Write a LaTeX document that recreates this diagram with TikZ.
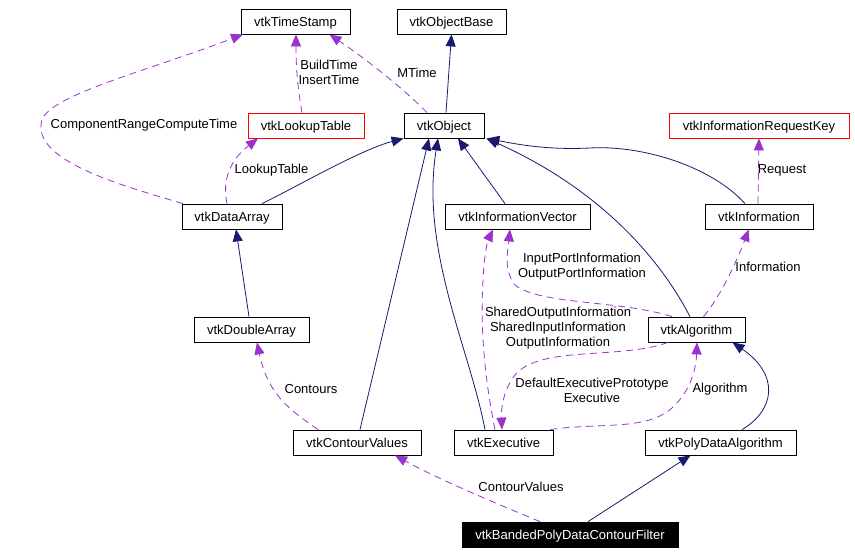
\documentclass[tikz,border=0pt]{standalone}
\usepackage{fontspec}
\setmainfont{Liberation Sans}
\usetikzlibrary{arrows.meta}
\definecolor{inhc}{RGB}{25,25,112}
\definecolor{usec}{RGB}{154,50,205}
\definecolor{redc}{RGB}{255,0,0}
\begin{document}
\begin{tikzpicture}[x=1pt,y=-1pt,
  font=\fontsize{13}{15}\selectfont,
  cls/.style={draw=black, line width=0.8pt, inner sep=0pt, minimum height=25pt, text height=11.5pt, text depth=1.5pt, fill=white},
  redcls/.style={cls, draw=redc},
  focus/.style={cls, fill=black, text=white},
  inhline/.style={draw=inhc, line width=0.8pt, -{Triangle[length=12pt,width=10pt]}},
  useline/.style={draw=usec, line width=0.8pt, dash pattern=on 7pt off 5pt, -{Triangle[length=12pt,width=10pt]}},
  lbl/.style={align=center, inner sep=0pt}
]
\useasboundingbox[fill=white] (0,0) rectangle (855,554);

% classes
\node[cls, minimum width=109pt] (ts)  at (295.5,21.5) {vtkTimeStamp};
\node[cls, minimum width=109pt] (ob)  at (451.5,21.5) {vtkObjectBase};
\node[redcls, minimum width=116pt] (lt) at (306,125.5) {vtkLookupTable};
\node[cls, minimum width=80pt] (obj) at (444,125.5) {vtkObject};
\node[redcls, minimum width=180pt] (rk) at (759,125.5) {vtkInformationRequestKey};
\node[cls, minimum width=100pt] (da)  at (232,216.5) {vtkDataArray};
\node[cls, minimum width=145pt] (iv)  at (517.5,216.5) {vtkInformationVector};
\node[cls, minimum width=108pt] (info) at (759,216.5) {vtkInformation};
\node[cls, minimum width=115pt] (dbl) at (251.5,329.5) {vtkDoubleArray};
\node[cls, minimum width=97pt] (alg) at (696.5,329.5) {vtkAlgorithm};
\node[cls, minimum width=128pt] (cv)  at (357,442.5) {vtkContourValues};
\node[cls, minimum width=99pt] (ex)  at (503.5,442.5) {vtkExecutive};
\node[cls, minimum width=151pt] (pda) at (720.5,442.5) {vtkPolyDataAlgorithm};
\node[focus, minimum width=216pt] (bpf) at (570,534.5) {vtkBandedPolyDataContourFilter};

% inheritance
\draw[inhline] ([xshift=2pt]obj.north) -- (ob.south);
\draw[inhline] ([xshift=30pt]da.north) .. controls (300,185) and (360,150) .. (obj.south west);
\draw[inhline] ([xshift=3pt]cv.north) -- ([xshift=-15pt]obj.south);
\draw[inhline] ([xshift=-18.5pt]ex.north) .. controls (470,350) and (420,250) .. ([xshift=-6pt]obj.south);
\draw[inhline] ([xshift=-12.5pt]iv.north) -- ([xshift=14pt]obj.south);
\draw[inhline] ([xshift=-6.5pt]alg.north) .. controls (650,240) and (580,180) .. ([xshift=2pt]obj.south east);
\draw[inhline] ([xshift=-14pt]info.north) .. controls (710,165) and (640,145) .. (590,148) .. controls (550,150) and (520,145) .. ([xshift=3pt]obj.south east);
\draw[inhline] ([xshift=-2.5pt]dbl.north) -- ([xshift=4pt]da.south);
\draw[inhline] ([xshift=21.5pt]pda.north) .. controls (775,410) and (780,375) .. ([xshift=36pt]alg.south);
\draw[inhline] ([xshift=18pt]bpf.north) -- ([xshift=-30pt]pda.south);

% usage
\draw[useline] ([xshift=-4pt]lt.north) .. controls (298,90) and (296,70) .. ([xshift=0.5pt]ts.south);
\node[lbl] (la) at (329,72) {BuildTime\\InsertTime};
\draw[useline] ([xshift=-17pt]obj.north) .. controls (400,85) and (360,55) .. ([xshift=34pt]ts.south);
\node[lbl] (lb) at (417,73) {MTime};
\draw[useline] ([xshift=-49pt]da.north) .. controls (120,185) and (30,160) .. (42,120) .. controls (50,95) and (150,70) .. ([xshift=-52.5pt]ts.south);
\node[lbl] (lc) at (144,125) {ComponentRangeComputeTime};
\draw[useline] ([xshift=-5pt]da.north) .. controls (222,180) and (230,160) .. ([xshift=-48pt]lt.south);
\node[lbl] (ld) at (271.5,170) {LookupTable};
\draw[useline] ([xshift=-1pt]info.north) -- (rk.south);
\node[lbl] (le) at (782,170) {Request};
\draw[useline] ([xshift=7pt]alg.north) .. controls (720,297) and (735,265) .. ([xshift=-10pt]info.south);
\node[lbl] (lf) at (768,267) {Information};
\draw[useline] ([xshift=-24.5pt]alg.north) .. controls (620,300) and (540,305) .. (515,285) .. controls (503,270) and (508,250) .. ([xshift=-7.5pt]iv.south);
\node[lbl] (lg) at (582,267) {InputPortInformation\\OutputPortInformation};
\draw[useline] ([xshift=-8.5pt]ex.north) .. controls (485,380) and (480,330) .. (483,280) .. controls (484,255) and (488,240) .. ([xshift=-24.5pt]iv.south);
\node[lbl] (lh) at (558,328) {SharedOutputInformation\\SharedInputInformation\\OutputInformation};
\draw[useline] ([xshift=-28.5pt]alg.south) .. controls (620,360) and (540,345) .. (515,375) .. controls (503,390) and (501,410) .. ([xshift=-1.5pt]ex.north);
\node[lbl] (li) at (592,390) {DefaultExecutivePrototype\\Executive};
\draw[useline] ([xshift=-3pt]ex.north east) .. controls (600,422) and (650,432) .. (675,405) .. controls (690,390) and (696,370) .. ([xshift=0.5pt]alg.south);
\node[lbl] (lj) at (720,389) {Algorithm};
\draw[useline] ([xshift=-30pt]bpf.north) .. controls (500,505) and (440,480) .. ([xshift=38pt]cv.south);
\node[lbl] (lk) at (521,487) {ContourValues};
\draw[useline] ([xshift=-39pt]cv.north) .. controls (290,410) and (268,395) .. ([xshift=5.5pt]dbl.south);
\node[lbl] (ll) at (311,389) {Contours};
\end{tikzpicture}
\end{document}
